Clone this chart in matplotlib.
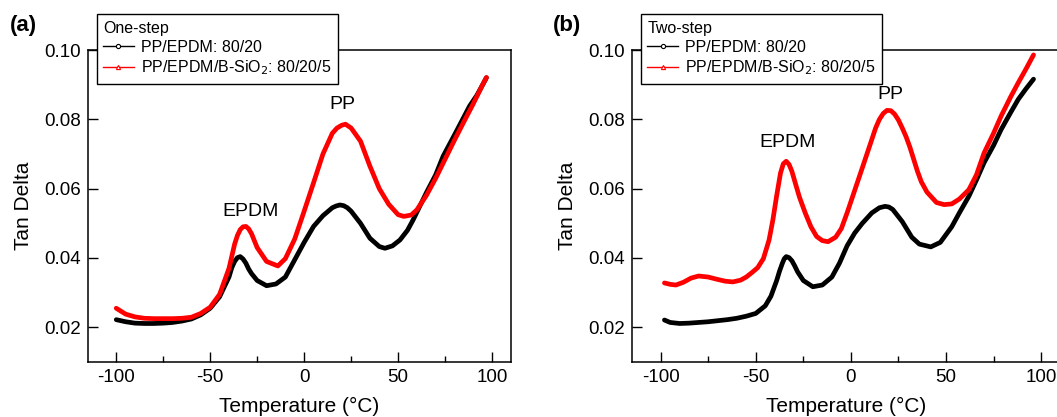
import matplotlib as mpl
import matplotlib.pyplot as plt
from matplotlib.lines import Line2D

mpl.use("Agg")
plt.rcParams["font.family"] = ["Liberation Sans", "DejaVu Sans"]
plt.rcParams["axes.unicode_minus"] = False

# ---- data (temperature in degC, tan delta) ----
temp_a_blend = [-100, -95, -90, -85, -80, -75, -70, -65, -60, -55, -50, -45, -40,
                -38.5, -37, -35.5, -34, -32.5, -31, -29.5, -28, -25, -20, -15, -10,
                -5, 0, 5, 10, 15, 17, 19, 21, 23, 25, 30, 35, 40, 43, 47, 51, 55, 58,
                65, 70, 74, 80, 83, 88, 92, 97]
tan_a_blend = [0.0222, 0.0216, 0.0212, 0.0211, 0.0211, 0.0212, 0.0214, 0.0218, 0.0224,
               0.0236, 0.0255, 0.0288, 0.0345, 0.0372, 0.0390, 0.0401, 0.0404, 0.0397,
               0.0385, 0.0368, 0.0355, 0.0335, 0.0320, 0.0325, 0.0345, 0.0395, 0.0445,
               0.0491, 0.0522, 0.0545, 0.0550, 0.0553, 0.0551, 0.0545, 0.0535, 0.0500,
               0.0457, 0.0433, 0.0428, 0.0435, 0.0452, 0.0480, 0.0510, 0.0588, 0.0640,
               0.0694, 0.0755, 0.0786, 0.0838, 0.0870, 0.0920]

temp_a_sio2 = [-100, -95, -90, -85, -80, -75, -70, -65, -60, -55, -50, -45, -40,
               -38.5, -37, -35.5, -34, -32.5, -31, -29.5, -28, -25, -20, -14, -10,
               -5, 0, 5, 10, 15, 17.5, 20, 22, 25, 30, 35, 40, 45, 50, 53, 57, 60,
               65, 70, 75, 80, 85, 90, 95, 97]
tan_a_sio2 = [0.0255, 0.0238, 0.0230, 0.0226, 0.0225, 0.0225, 0.0225, 0.0226, 0.0229,
              0.0240, 0.0258, 0.0295, 0.0370, 0.0405, 0.0440, 0.0465, 0.0482, 0.0490,
              0.0491, 0.0484, 0.0470, 0.0430, 0.0390, 0.0377, 0.0398, 0.0455, 0.0535,
              0.0617, 0.0700, 0.0760, 0.0775, 0.0783, 0.0786, 0.0775, 0.0737, 0.0665,
              0.0600, 0.0555, 0.0525, 0.0520, 0.0524, 0.0539, 0.0580, 0.0630, 0.0685,
              0.0740, 0.0793, 0.0845, 0.0900, 0.0921]

temp_b_blend = [-98, -95, -90, -85, -80, -75, -70, -65, -60, -55, -50, -45, -42,
                -39, -37.5, -36, -35, -34, -32.5, -31, -29.5, -28, -25, -20, -15,
                -10, -6, -2, 2, 6, 11, 15, 18, 20, 22, 27, 32, 36, 42, 47, 53, 57,
                62, 66, 70, 75, 79, 84, 88, 92, 96]
tan_b_blend = [0.0221, 0.0214, 0.0211, 0.0212, 0.0214, 0.0216, 0.0219, 0.0222, 0.0226,
               0.0232, 0.0240, 0.0262, 0.0290, 0.0335, 0.0362, 0.0385, 0.0398, 0.0404,
               0.0401, 0.0392, 0.0377, 0.0360, 0.0335, 0.0317, 0.0322, 0.0345, 0.0385,
               0.0435, 0.0472, 0.0500, 0.0530, 0.0545, 0.0549, 0.0547, 0.0540, 0.0505,
               0.0460, 0.0440, 0.0432, 0.0445, 0.0490, 0.0530, 0.0578, 0.0625, 0.0675,
               0.0725, 0.0771, 0.0820, 0.0858, 0.0888, 0.0916]

temp_b_sio2 = [-98, -95, -92, -88, -84, -80, -75, -70, -66, -62, -58, -55, -52, -49,
               -46, -43, -41, -39, -37, -35.5, -34, -32.5, -31, -29, -27, -24, -21,
               -18, -15, -12, -8, -5, -2, 2, 6, 11, 13, 15, 17, 19, 21, 23, 25, 27,
               29, 31, 33, 35, 37, 40, 45, 49, 53, 57, 62, 66, 70, 75, 79, 84, 88,
               92, 96]
tan_b_sio2 = [0.0328, 0.0324, 0.0322, 0.0330, 0.0342, 0.0348, 0.0345, 0.0338, 0.0333,
              0.0331, 0.0336, 0.0345, 0.0358, 0.0372, 0.0398, 0.0452, 0.0510, 0.0580,
              0.0645, 0.0672, 0.0679, 0.0670, 0.0650, 0.0612, 0.0575, 0.0530, 0.0490,
              0.0462, 0.0450, 0.0447, 0.0460, 0.0485, 0.0530, 0.0595, 0.0660, 0.0742,
              0.0775, 0.0800, 0.0817, 0.0826, 0.0825, 0.0815, 0.0798, 0.0775, 0.0750,
              0.0720, 0.0685, 0.0650, 0.0620, 0.0590, 0.0560, 0.0554, 0.0556, 0.0570,
              0.0597, 0.0640, 0.0703, 0.0760, 0.0810, 0.0865, 0.0906, 0.0945, 0.0986]

series_labels = ["PP/EPDM: 80/20", "PP/EPDM/B-SiO$_2$: 80/20/5"]
panel_titles = ["One-step", "Two-step"]
panel_tags = ["(a)", "(b)"]
peak_names = ["EPDM", "PP"]
peak_pos_a = [(-28.5, 0.0533), (20.5, 0.0843)]
peak_pos_b = [(-33.5, 0.0733), (21.0, 0.0872)]

panels = [
    (temp_a_blend, tan_a_blend, temp_a_sio2, tan_a_sio2, peak_pos_a),
    (temp_b_blend, tan_b_blend, temp_b_sio2, tan_b_sio2, peak_pos_b),
]

fig = plt.figure(figsize=(10.57, 4.17), dpi=100)
ax_rects = [[0.0833, 0.132, 0.400, 0.748], [0.598, 0.132, 0.405, 0.748]]
tag_x = [0.009, 0.523]

for i, (t1, v1, t2, v2, peaks) in enumerate(panels):
    ax = fig.add_axes(ax_rects[i])
    ax.plot(t1, v1, color="black", lw=3.4, solid_capstyle="round",
            solid_joinstyle="round")
    ax.plot(t2, v2, color="#ff0000", lw=3.4, solid_capstyle="round",
            solid_joinstyle="round")

    ax.set_xlim(-115, 110)
    ax.set_ylim(0.01, 0.10)
    ax.set_xticks([-100, -50, 0, 50, 100])
    ax.set_xticks([-75, -25, 25, 75], minor=True)
    ax.set_yticks([0.02, 0.04, 0.06, 0.08, 0.10])
    ax.set_yticklabels(["0.02", "0.04", "0.06", "0.08", "0.10"])
    ax.tick_params(direction="in", length=7, width=1, labelsize=13.5, pad=5)
    ax.tick_params(which="minor", direction="in", length=4, width=1)
    for s in ax.spines.values():
        s.set_linewidth(1.1)

    ax.set_xlabel("Temperature (°C)", fontsize=15, labelpad=8)
    ax.set_ylabel("Tan Delta", fontsize=15, labelpad=8)

    for name, (px, py) in zip(peak_names, peaks):
        ax.text(px, py, name, fontsize=14, ha="center", va="center")

    handles = [
        Line2D([], [], color="black", lw=1, marker="o", markersize=3,
               markerfacecolor="white", markeredgewidth=0.8),
        Line2D([], [], color="#ff0000", lw=1, marker="^", markersize=3,
               markerfacecolor="white", markeredgewidth=0.8),
    ]
    leg = ax.legend(handles, series_labels, title=panel_titles[i], loc="upper left",
                    bbox_to_anchor=(0.021, 1.115), borderaxespad=0, fontsize=11.5,
                    title_fontsize=11.5, alignment="left", fancybox=False,
                    framealpha=1, edgecolor="black", handlelength=1.9,
                    handletextpad=0.45, labelspacing=0.25, borderpad=0.4)
    leg.get_frame().set_linewidth(1.0)

    fig.text(tag_x[i], 0.925, panel_tags[i], fontsize=16, fontweight="bold")

fig.savefig("out.png", dpi=100)
